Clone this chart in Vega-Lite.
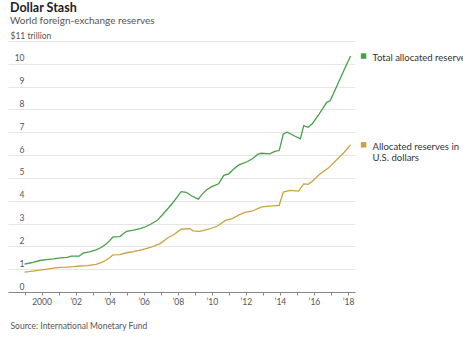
{
  "$schema": "https://vega.github.io/schema/vega-lite/v6.json",
  "width": 347,
  "height": 251,
  "autosize": {"type": "none"},
  "padding": {"left": 8, "top": 41, "right": 108, "bottom": 49},
  "background": "white",
  "title": {
    "text": "Dollar Stash",
    "subtitle": "World foreign-exchange reserves",
    "anchor": "start",
    "frame": "group",
    "dx": 2,
    "offset": 5,
    "font": "Lato",
    "fontSize": 12.5,
    "fontWeight": "bold",
    "color": "#222",
    "subtitleFont": "Lato",
    "subtitleFontSize": 10,
    "subtitleColor": "#555",
    "subtitlePadding": 2
  },
  "config": {
    "view": {"stroke": null},
    "font": "Lato"
  },
  "datasets": {
    "reserves": [
      {"series": "Total", "year": 1999.0, "value": 1.22},
      {"series": "Total", "year": 1999.25, "value": 1.26},
      {"series": "Total", "year": 1999.5, "value": 1.3},
      {"series": "Total", "year": 1999.9, "value": 1.38},
      {"series": "Total", "year": 2000.3, "value": 1.42},
      {"series": "Total", "year": 2000.7, "value": 1.45},
      {"series": "Total", "year": 2001.1, "value": 1.5},
      {"series": "Total", "year": 2001.5, "value": 1.52},
      {"series": "Total", "year": 2001.75, "value": 1.57},
      {"series": "Total", "year": 2002.2, "value": 1.57},
      {"series": "Total", "year": 2002.45, "value": 1.7},
      {"series": "Total", "year": 2002.8, "value": 1.76},
      {"series": "Total", "year": 2003.2, "value": 1.85},
      {"series": "Total", "year": 2003.5, "value": 1.95},
      {"series": "Total", "year": 2003.8, "value": 2.1},
      {"series": "Total", "year": 2004.0, "value": 2.25},
      {"series": "Total", "year": 2004.2, "value": 2.42},
      {"series": "Total", "year": 2004.6, "value": 2.43},
      {"series": "Total", "year": 2004.8, "value": 2.55},
      {"series": "Total", "year": 2005.0, "value": 2.66},
      {"series": "Total", "year": 2005.4, "value": 2.71},
      {"series": "Total", "year": 2005.8, "value": 2.78},
      {"series": "Total", "year": 2006.1, "value": 2.86},
      {"series": "Total", "year": 2006.4, "value": 2.97},
      {"series": "Total", "year": 2006.8, "value": 3.14},
      {"series": "Total", "year": 2007.15, "value": 3.43},
      {"series": "Total", "year": 2007.45, "value": 3.68},
      {"series": "Total", "year": 2007.7, "value": 3.9},
      {"series": "Total", "year": 2007.95, "value": 4.15},
      {"series": "Total", "year": 2008.2, "value": 4.4},
      {"series": "Total", "year": 2008.5, "value": 4.37},
      {"series": "Total", "year": 2008.8, "value": 4.22},
      {"series": "Total", "year": 2009.2, "value": 4.07},
      {"series": "Total", "year": 2009.45, "value": 4.3},
      {"series": "Total", "year": 2009.7, "value": 4.48},
      {"series": "Total", "year": 2010.0, "value": 4.62},
      {"series": "Total", "year": 2010.4, "value": 4.74},
      {"series": "Total", "year": 2010.7, "value": 5.11},
      {"series": "Total", "year": 2011.0, "value": 5.18},
      {"series": "Total", "year": 2011.3, "value": 5.4},
      {"series": "Total", "year": 2011.6, "value": 5.57},
      {"series": "Total", "year": 2012.1, "value": 5.72},
      {"series": "Total", "year": 2012.4, "value": 5.85},
      {"series": "Total", "year": 2012.7, "value": 6.03},
      {"series": "Total", "year": 2012.9, "value": 6.08},
      {"series": "Total", "year": 2013.4, "value": 6.05},
      {"series": "Total", "year": 2013.7, "value": 6.16},
      {"series": "Total", "year": 2013.96, "value": 6.2},
      {"series": "Total", "year": 2014.2, "value": 6.93},
      {"series": "Total", "year": 2014.43, "value": 7.0},
      {"series": "Total", "year": 2014.8, "value": 6.86},
      {"series": "Total", "year": 2015.2, "value": 6.71},
      {"series": "Total", "year": 2015.4, "value": 7.29},
      {"series": "Total", "year": 2015.66, "value": 7.22},
      {"series": "Total", "year": 2015.9, "value": 7.37},
      {"series": "Total", "year": 2016.3, "value": 7.8},
      {"series": "Total", "year": 2016.75, "value": 8.31},
      {"series": "Total", "year": 2016.95, "value": 8.38},
      {"series": "Total", "year": 2017.3, "value": 8.95},
      {"series": "Total", "year": 2017.7, "value": 9.62},
      {"series": "Total", "year": 2018.15, "value": 10.34},
      {"series": "USD", "year": 1999.0, "value": 0.87},
      {"series": "USD", "year": 1999.25, "value": 0.89},
      {"series": "USD", "year": 1999.9, "value": 0.96},
      {"series": "USD", "year": 2000.3, "value": 1.0},
      {"series": "USD", "year": 2000.7, "value": 1.05},
      {"series": "USD", "year": 2001.1, "value": 1.08},
      {"series": "USD", "year": 2001.5, "value": 1.09},
      {"series": "USD", "year": 2001.9, "value": 1.11},
      {"series": "USD", "year": 2002.26, "value": 1.14},
      {"series": "USD", "year": 2002.7, "value": 1.16},
      {"series": "USD", "year": 2003.2, "value": 1.21},
      {"series": "USD", "year": 2003.5, "value": 1.29},
      {"series": "USD", "year": 2003.8, "value": 1.4},
      {"series": "USD", "year": 2004.0, "value": 1.5},
      {"series": "USD", "year": 2004.2, "value": 1.63},
      {"series": "USD", "year": 2004.6, "value": 1.64},
      {"series": "USD", "year": 2005.0, "value": 1.72},
      {"series": "USD", "year": 2005.4, "value": 1.77},
      {"series": "USD", "year": 2005.8, "value": 1.84},
      {"series": "USD", "year": 2006.4, "value": 1.95},
      {"series": "USD", "year": 2006.96, "value": 2.12},
      {"series": "USD", "year": 2007.45, "value": 2.39},
      {"series": "USD", "year": 2007.8, "value": 2.53},
      {"series": "USD", "year": 2008.2, "value": 2.75},
      {"series": "USD", "year": 2008.7, "value": 2.78},
      {"series": "USD", "year": 2008.9, "value": 2.68},
      {"series": "USD", "year": 2009.3, "value": 2.66},
      {"series": "USD", "year": 2009.8, "value": 2.75},
      {"series": "USD", "year": 2010.3, "value": 2.88},
      {"series": "USD", "year": 2010.8, "value": 3.14},
      {"series": "USD", "year": 2011.2, "value": 3.22},
      {"series": "USD", "year": 2011.6, "value": 3.38},
      {"series": "USD", "year": 2011.95, "value": 3.49},
      {"series": "USD", "year": 2012.34, "value": 3.54},
      {"series": "USD", "year": 2012.93, "value": 3.73},
      {"series": "USD", "year": 2013.4, "value": 3.76},
      {"series": "USD", "year": 2013.96, "value": 3.8},
      {"series": "USD", "year": 2014.2, "value": 4.38},
      {"series": "USD", "year": 2014.6, "value": 4.45},
      {"series": "USD", "year": 2015.1, "value": 4.42},
      {"series": "USD", "year": 2015.4, "value": 4.74},
      {"series": "USD", "year": 2015.66, "value": 4.72},
      {"series": "USD", "year": 2015.9, "value": 4.85},
      {"series": "USD", "year": 2016.3, "value": 5.14},
      {"series": "USD", "year": 2016.84, "value": 5.43},
      {"series": "USD", "year": 2017.2, "value": 5.7},
      {"series": "USD", "year": 2017.7, "value": 6.06},
      {"series": "USD", "year": 2018.15, "value": 6.45}
    ],
    "ends": [
      {"series": "Total", "year": 2018.15, "value": 10.34, "label": ["Total allocated reserves"]},
      {"series": "USD", "year": 2018.15, "value": 6.45, "label": ["Allocated reserves in", "U.S. dollars"]}
    ]
  },
  "encoding": {
    "x": {
      "field": "year",
      "type": "quantitative",
      "scale": {"domain": [1998.03, 2018.41], "nice": false, "zero": false},
      "axis": {
        "values": [1999, 2000, 2001, 2002, 2003, 2004, 2005, 2006, 2007, 2008, 2009, 2010, 2011, 2012, 2013, 2014, 2015, 2016, 2017, 2018],
        "labelExpr": "datum.value % 2 == 1 ? '' : (datum.value == 2000 ? '2000' : '\u2019' + slice(toString(datum.value), 2))",
        "grid": false,
        "domainColor": "#888",
        "tickColor": "#888",
        "tickSize": 3,
        "labelPadding": 2,
        "labelFontSize": 8.5,
        "labelColor": "#555",
        "labelFlush": false,
        "labelOverlap": false,
        "title": "Source: International Monetary Fund",
        "titleAnchor": "start",
        "titleAlign": "left",
        "titleBaseline": "alphabetic",
        "titleX": 2,
        "titleY": 36,
        "titleFontSize": 8.5,
        "titleFontWeight": "normal",
        "titleColor": "#555"
      }
    },
    "y": {
      "field": "value",
      "type": "quantitative",
      "scale": {"domain": [0, 11], "nice": false},
      "axis": {
        "values": [0, 1, 2, 3, 4, 5, 6, 7, 8, 9, 10, 11],
        "labelExpr": "datum.value == 11 ? '$11 trillion' : datum.label",
        "domain": false,
        "ticks": false,
        "tickSize": 0,
        "gridColor": "#e6e6e6",
        "labelAlign": {"condition": {"test": "datum.value == 11", "value": "left"}, "value": "right"},
        "labelPadding": {"condition": {"test": "datum.value == 11", "value": -2}, "value": -16},
        "labelBaseline": "bottom",
        "labelOffset": -1,
        "labelFontSize": 8.5,
        "labelColor": "#555",
        "labelFlush": false,
        "title": null
      }
    },
    "color": {
      "field": "series",
      "type": "nominal",
      "scale": {"domain": ["Total", "USD"], "range": ["#47a047", "#caa241"]},
      "legend": null
    }
  },
  "layer": [
    {
      "data": {"name": "reserves"},
      "mark": {"type": "line", "strokeWidth": 1.3, "interpolate": "linear"}
    },
    {
      "data": {"name": "ends"},
      "mark": {"type": "square", "size": 30, "opacity": 1, "filled": true, "xOffset": 13}
    },
    {
      "data": {"name": "ends"},
      "mark": {"type": "text", "align": "left", "baseline": "top", "dx": 22, "dy": -3, "fontSize": 9.5, "lineHeight": 11.5, "color": "#333"},
      "encoding": {"text": {"field": "label"}, "color": {"value": "#333"}}
    }
  ]
}
